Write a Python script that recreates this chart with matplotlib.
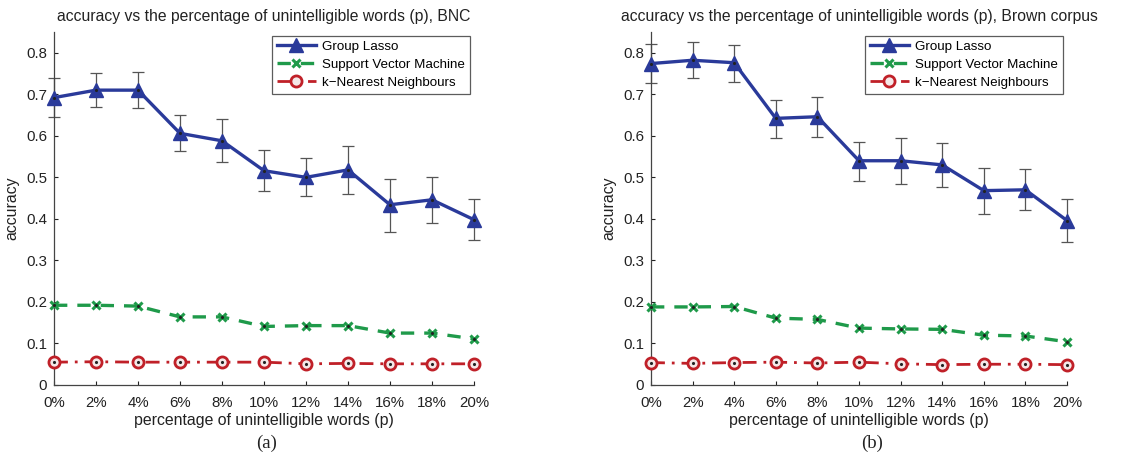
import matplotlib
matplotlib.use("Agg")
import matplotlib.pyplot as plt
import numpy as np

plt.rcParams['font.family'] = ['Liberation Sans', 'DejaVu Sans']

x_pct = [0, 2, 4, 6, 8, 10, 12, 14, 16, 18, 20]
x_labels = ['0%', '2%', '4%', '6%', '8%', '10%', '12%', '14%', '16%', '18%', '20%']

# Panel (a) BNC
bnc_gl = [0.692, 0.710, 0.710, 0.606, 0.588, 0.516, 0.500, 0.518, 0.434, 0.446, 0.398]
bnc_gl_hi = [0.740, 0.752, 0.754, 0.649, 0.640, 0.565, 0.546, 0.575, 0.497, 0.502, 0.447]
bnc_gl_lo = [0.645, 0.670, 0.668, 0.563, 0.537, 0.467, 0.454, 0.460, 0.369, 0.390, 0.348]
bnc_svm = [0.192, 0.192, 0.190, 0.164, 0.164, 0.141, 0.143, 0.143, 0.125, 0.125, 0.111]
bnc_knn = [0.055, 0.056, 0.055, 0.055, 0.055, 0.055, 0.051, 0.052, 0.051, 0.051, 0.051]

# Panel (b) Brown corpus
brown_gl = [0.774, 0.782, 0.776, 0.642, 0.646, 0.540, 0.540, 0.530, 0.468, 0.470, 0.396]
brown_gl_hi = [0.820, 0.826, 0.818, 0.686, 0.693, 0.586, 0.595, 0.582, 0.523, 0.521, 0.449]
brown_gl_lo = [0.727, 0.739, 0.730, 0.595, 0.598, 0.492, 0.485, 0.476, 0.412, 0.422, 0.345]
brown_svm = [0.188, 0.188, 0.189, 0.161, 0.158, 0.137, 0.135, 0.134, 0.120, 0.118, 0.104]
brown_knn = [0.054, 0.052, 0.054, 0.055, 0.053, 0.055, 0.051, 0.049, 0.050, 0.050, 0.049]

titles = ['accuracy vs the percentage of unintelligible words (p), BNC',
          'accuracy vs the percentage of unintelligible words (p), Brown corpus']
captions = ['(a)', '(b)']

BLUE = '#2a3a9a'
GREEN = '#1f9a4a'
RED = '#c02028'
GRAY = '#555555'

fig = plt.figure(figsize=(11.47, 4.68), dpi=100)
W, H = 1147, 468
panels = [
    (54, 474, 267, bnc_gl, bnc_gl_lo, bnc_gl_hi, bnc_svm, bnc_knn),
    (651, 1067, 872, brown_gl, brown_gl_lo, brown_gl_hi, brown_svm, brown_knn),
]
top_px, bot_px = 32, 385
for i, (l, r, cap_x, gl, lo, hi, svm, knn) in enumerate(panels):
    ax = fig.add_axes([l / W, 1 - bot_px / H, (r - l) / W, (bot_px - top_px) / H])
    gl = np.array(gl); lo = np.array(lo); hi = np.array(hi)
    ax.errorbar(x_pct, gl, yerr=[gl - lo, hi - gl], fmt='none', ecolor=GRAY,
                elinewidth=0.9, capsize=4, capthick=0.9, zorder=2, clip_on=False)
    ax.plot(x_pct, gl, '-', color=BLUE, lw=2.4, marker='^', markersize=9.5,
            markerfacecolor=BLUE, markeredgecolor=BLUE, label='Group Lasso', zorder=3, clip_on=False)
    ax.plot(x_pct, svm, '--', color=GREEN, lw=2.4, dashes=(4, 3), marker='x', markersize=6,
            markeredgewidth=2.2, markeredgecolor=GREEN, label='Support Vector Machine', zorder=3, clip_on=False)
    ax.plot(x_pct, knn, '-.', color=RED, lw=2.0, dashes=(5, 2.5, 1, 2.5), marker='o', markersize=8,
            markerfacecolor='#f4e8e8', markeredgecolor=RED, markeredgewidth=2.0,
            label='k\u2212Nearest Neighbours', zorder=3, clip_on=False)
    for series in (gl, svm, knn):
        ax.plot(x_pct, series, linestyle='none', marker='.', markersize=2.5,
                color='#222222', zorder=4, clip_on=False)
    ax.set_xlim(0, 20)
    ax.set_ylim(0, 0.85)
    ax.set_xticks(x_pct)
    ax.set_xticklabels(x_labels)
    ax.set_yticks([0, 0.1, 0.2, 0.3, 0.4, 0.5, 0.6, 0.7, 0.8])
    ax.set_yticklabels(['0', '0.1', '0.2', '0.3', '0.4', '0.5', '0.6', '0.7', '0.8'])
    ax.spines['top'].set_visible(False)
    ax.spines['right'].set_visible(False)
    for s in ('left', 'bottom'):
        ax.spines[s].set_color('#444444')
        ax.spines[s].set_linewidth(0.9)
    ax.tick_params(axis='both', labelsize=10.8, colors='#222222', direction='in', length=3, width=0.8)
    ax.tick_params(axis='x', pad=8)
    ax.tick_params(axis='y', pad=5)
    ax.set_xlabel('percentage of unintelligible words (p)', fontsize=11.4, color='#222222', labelpad=2)
    ax.set_ylabel('accuracy', fontsize=11.4, color='#222222', labelpad=5)
    ax.set_title(titles[i], fontsize=11.3, color='#222222', pad=8)
    leg = ax.legend(loc='upper right', fontsize=9.6, frameon=True, fancybox=False,
                    edgecolor='#333333', handlelength=2.9, borderpad=0.35, labelspacing=0.42,
                    handletextpad=0.5, borderaxespad=0.3)
    leg.get_frame().set_linewidth(0.9)
    fig.text(cap_x / W, 1 - 443 / H, captions[i], fontsize=13.5,
             family=['Liberation Serif', 'DejaVu Serif'], ha='center', va='center', color='#222222')

fig.savefig('out.png', dpi=100)
